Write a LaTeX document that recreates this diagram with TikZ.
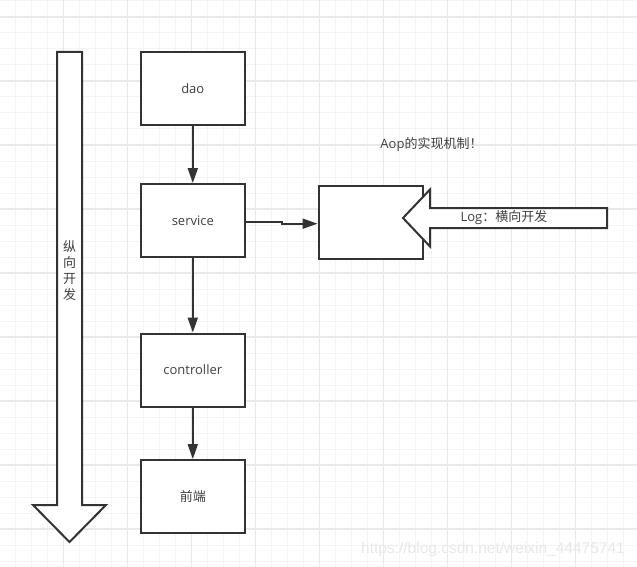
\documentclass[tikz,border=0pt]{standalone}
\usepackage{fontspec}
\setmainfont{Open Sans}
\newfontfamily\cjk{Noto Sans CJK SC}
\newfontfamily\marksans{Liberation Sans}
\usepackage{tikz}
\usetikzlibrary{arrows.meta}

\begin{document}
\begin{tikzpicture}[x=1pt, y=-1pt,
  every node/.style={font=\fontsize{13}{16}\selectfont, text=black!75},
  minorgrid/.style={gray!9, line width=1pt},
  majorgrid/.style={gray!17, line width=1.4pt},
  box/.style={draw=black!80, line width=2pt, fill=white, minimum width=104pt, minimum height=73pt, inner sep=0pt},
  fatarrow/.style={draw=black!80, line width=2pt, fill=white, line join=miter},
  link/.style={draw=black!80, line width=2pt, -{Triangle[length=15pt,width=10pt]}}]
  \useasboundingbox (0,0) rectangle (637,567);
  \fill[white] (0,0) rectangle (637,567);
  \foreach \gx in {15.7,31.7,...,637} \draw[minorgrid] (\gx,0) -- (\gx,567);
  \foreach \gy in {1,17,...,567} \draw[minorgrid] (0,\gy) -- (637,\gy);
  \foreach \gx in {63.7,127.7,...,637} \draw[majorgrid] (\gx,0) -- (\gx,567);
  \foreach \gy in {17,81,...,567} \draw[majorgrid] (0,\gy) -- (637,\gy);

  \draw[fatarrow] (57,52) -- (82,52) -- (82,505) -- (106,505) -- (69.5,542) -- (33,505) -- (57,505) -- cycle;
  \node[font=\fontsize{13}{16}\selectfont\cjk, align=center] (vlabel) at (69.5,271) {纵\\向\\开\\发};

  \node[box] (dao) at (192.8,88.7) {dao};
  \node[box] (service) at (192.8,220.5) {service};
  \node[box] (controller) at (192.8,370) {controller};
  \node[box] (front) at (192.8,496.5) {\cjk 前端};
  \draw[link] (dao) -- (service);
  \draw[link] (service) -- (controller);
  \draw[link] (controller) -- (front);

  \node[box] (aopbox) at (370.5,222) {};
  \coordinate (jogA) at (282,221.7);
  \coordinate (jogB) at (282,223.7);
  \draw[link] (service.east |- jogA) -- (jogA) -- (jogB) -- (aopbox.west |- jogB);

  \draw[fatarrow] (607,208) -- (430,208) -- (430,189.5) -- (403,218) -- (430,246.5) -- (430,228) -- (607,228) -- cycle;
  \node (logtext) at (504,218) {Log{\cjk ：横向开发}};
  \node (aoptext) at (431.5,145) {Aop{\cjk 的实现机制！}};

  \node[font=\fontsize{15.5}{18}\selectfont\marksans, text=gray!18] (mark) at (493,549) {https://blog.csdn.net/weixin\_44475741};
\end{tikzpicture}
\end{document}
